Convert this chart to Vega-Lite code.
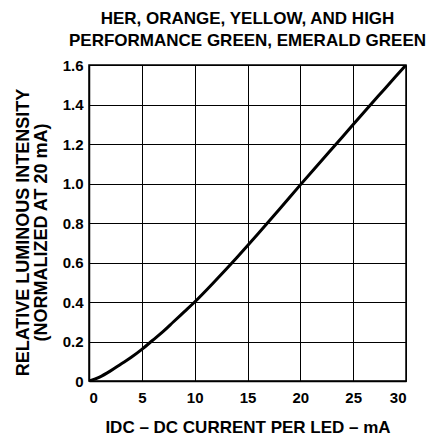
{
  "$schema": "https://vega.github.io/schema/vega-lite/v6.json",
  "autosize": "none",
  "width": 317,
  "height": 316,
  "padding": {"left": 89, "top": 65, "right": 28, "bottom": 61},
  "background": "white",
  "title": {
    "text": ["HER, ORANGE, YELLOW, AND HIGH", "PERFORMANCE GREEN, EMERALD GREEN"],
    "font": "Liberation Sans",
    "fontSize": 17,
    "fontWeight": "bold",
    "color": "black",
    "anchor": "middle",
    "lineHeight": 22,
    "offset": 8
  },
  "config": {
    "view": {"stroke": "black", "strokeWidth": 1.5},
    "axis": {
      "labelFont": "Liberation Sans",
      "labelFontSize": 15,
      "labelFontWeight": "bold",
      "labelColor": "black",
      "titleFont": "Liberation Sans",
      "titleFontSize": 17,
      "titleFontWeight": "bold",
      "titleColor": "black",
      "grid": true,
      "gridColor": "black",
      "gridOpacity": 1,
      "gridWidth": 1,
      "domainColor": "black",
      "domainWidth": 1.5,
      "ticks": false
    }
  },
  "data": {
    "values": [
      {"current": 0, "intensity": 0.0},
      {"current": 1, "intensity": 0.02},
      {"current": 2, "intensity": 0.05},
      {"current": 3, "intensity": 0.085},
      {"current": 4, "intensity": 0.12},
      {"current": 5, "intensity": 0.16},
      {"current": 6, "intensity": 0.205},
      {"current": 7, "intensity": 0.25},
      {"current": 8, "intensity": 0.3},
      {"current": 9, "intensity": 0.35},
      {"current": 10, "intensity": 0.4},
      {"current": 12, "intensity": 0.51},
      {"current": 14, "intensity": 0.625},
      {"current": 16, "intensity": 0.745},
      {"current": 18, "intensity": 0.868},
      {"current": 20, "intensity": 0.993},
      {"current": 22, "intensity": 1.115},
      {"current": 24, "intensity": 1.237},
      {"current": 26, "intensity": 1.36},
      {"current": 28, "intensity": 1.48},
      {"current": 30, "intensity": 1.6}
    ]
  },
  "mark": {"type": "line", "color": "black", "strokeWidth": 3, "interpolate": "monotone", "clip": true},
  "encoding": {
    "x": {
      "field": "current",
      "type": "quantitative",
      "scale": {"domain": [0, 30], "nice": false},
      "axis": {
        "values": [0, 5, 10, 15, 20, 25, 30],
        "labelPadding": 9,
        "titlePadding": 14,
        "title": "IDC – DC CURRENT PER LED – mA"
      }
    },
    "y": {
      "field": "intensity",
      "type": "quantitative",
      "scale": {"domain": [0, 1.6], "nice": false},
      "axis": {
        "values": [0, 0.2, 0.4, 0.6, 0.8, 1.0, 1.2, 1.4, 1.6],
        "labelExpr": "datum.value == 0 ? '0' : format(datum.value, '.1f')",
        "labelPadding": 6,
        "titlePadding": 12,
        "titleFontSize": 18,
        "titleLineHeight": 18,
        "titleY": 167,
        "title": ["RELATIVE LUMINOUS INTENSITY", "(NORMALIZED AT 20 mA)"]
      }
    }
  }
}
